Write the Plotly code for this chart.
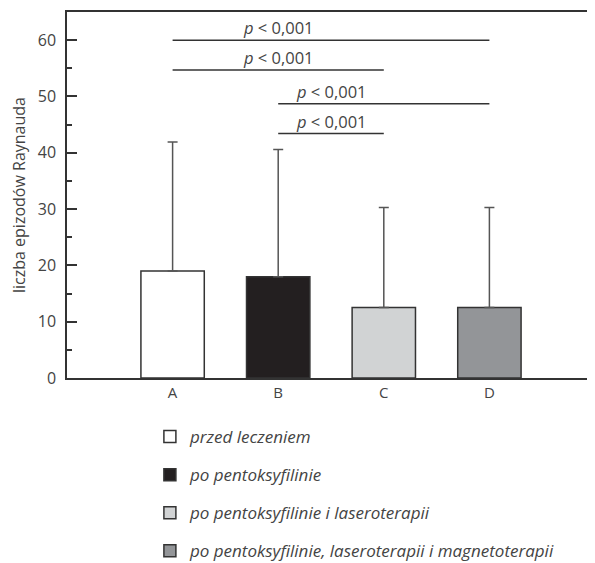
import plotly.graph_objects as go

categories = ["A", "B", "C", "D"]
means = [19.0, 18.0, 12.5, 12.5]
errors_plus = [22.9, 22.6, 17.8, 17.8]
legend_names = [
    "przed leczeniem",
    "po pentoksyfilinie",
    "po pentoksyfilinie i laseroterapii",
    "po pentoksyfilinie, laseroterapii i magnetoterapii",
]
bar_colors = ["#ffffff", "#231f20", "#d1d3d4", "#939598"]

comparisons = [("A", "D"), ("A", "C"), ("B", "D"), ("B", "C")]
comparison_levels = [60.0, 54.7, 48.7, 43.4]
comparison_labels = ["<i>p</i> < 0,001"] * 4
label_x = [1.0, 1.0, 1.5, 1.5]

FONT = "Open Sans"
TXT = "#444444"
LINE = "#333333"

fig = go.Figure()
for i, cat in enumerate(categories):
    fig.add_trace(go.Bar(
        x=[cat], y=[means[i]], name=legend_names[i],
        marker=dict(color=bar_colors[i], line=dict(color=LINE, width=1.5)),
        width=0.6,
        error_y=dict(type="data", symmetric=False, array=[errors_plus[i]],
                     arrayminus=[0], color="#555555", thickness=1.5, width=5),
        legendgroup=f"g{i}",
    ))

idx = {c: i for i, c in enumerate(categories)}
for (a, b), lvl, lab, lx in zip(comparisons, comparison_levels, comparison_labels, label_x):
    fig.add_shape(type="line", x0=idx[a], x1=idx[b], y0=lvl, y1=lvl,
                  xref="x", yref="y", line=dict(color=LINE, width=1.5))
    fig.add_annotation(x=lx, y=lvl, text=lab, showarrow=False, xref="x", yref="y",
                       yanchor="bottom", yshift=-1,
                       font=dict(family=FONT, size=16.5, color=TXT))

fig.update_layout(
    width=595, height=580,
    margin=dict(l=59, r=8, t=4, b=210),
    plot_bgcolor="white", paper_bgcolor="white",
    barmode="overlay",
    font=dict(family=FONT, size=14, color=TXT),
    showlegend=True,
    legend=dict(x=0.157, y=-0.112, xanchor="left", yanchor="top",
                font=dict(family=FONT, size=17, color=TXT, style="italic"),
                tracegroupgap=13, bgcolor="rgba(0,0,0,0)"),
    xaxis=dict(type="category", categoryorder="array", categoryarray=categories,
               range=[-1, 4], showline=True, linecolor=LINE, linewidth=1.5,
               mirror=True, ticks="", showgrid=False, zeroline=False,
               automargin=False,
               tickfont=dict(size=15, color=TXT)),
    yaxis=dict(range=[0, 65], tickvals=[0, 10, 20, 30, 40, 50, 60],
               showline=True, linecolor=LINE, linewidth=1.5,
               ticks="inside", ticklen=10, tickwidth=1.5, tickcolor=LINE,
               minor=dict(ticks="inside", ticklen=5, tickwidth=1.5, tickcolor=LINE, dtick=5),
               showgrid=False, zeroline=False, automargin=False,
               ticklabelstandoff=6,
               tickfont=dict(size=16, color=TXT),
               title=dict(text="liczba epizodów Raynauda", font=dict(size=16, color=TXT),
                          standoff=8)),
)

fig.write_html("out.html")
